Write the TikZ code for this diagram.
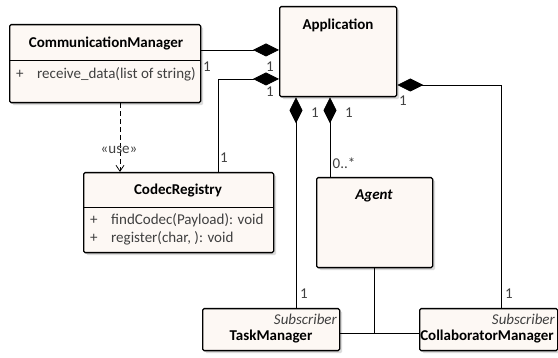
\documentclass[tikz,border=0pt]{standalone}
\usepackage{fontspec}
\setmainfont{Carlito}
\usetikzlibrary{arrows.meta,shadows,calc}
\definecolor{clsfill}{HTML}{FDF8F4}
\definecolor{optext}{HTML}{404040}
\newcommand{\umlsize}{\fontsize{15}{17}\selectfont}
\begin{document}
\begin{tikzpicture}[x=1pt,y=-1pt,
  cls/.style={draw=black, line width=1.3pt, fill=clsfill, rounded corners=1.5pt,
    anchor=north west, inner sep=0pt,
    drop shadow={shadow xshift=2.5pt, shadow yshift=-2.5pt, fill=black!14, opacity=1}},
  title/.style={font=\umlsize\bfseries, inner sep=0pt},
  optxt/.style={font=\umlsize, text=optext, inner sep=0pt, anchor=west},
  mult/.style={font=\umlsize, text=optext, inner sep=0pt},
  link/.style={draw=black, line width=0.8pt},
  comp/.style={link, {Diamond[length=26pt,width=13pt,fill=black]}-},
  uses/.style={link, dashed, dash pattern=on 5pt off 3pt, -{Straight Barb[length=6pt,width=8pt,line width=0.8pt]}},
]
\useasboundingbox (0,0) rectangle (558,358);

% class boxes
\node[cls, minimum width=191pt, minimum height=78pt] (cm) at (9,24) {};
\node[cls, minimum width=117pt, minimum height=90pt] (app) at (279,6) {};
\node[cls, minimum width=190pt, minimum height=80pt] (cr) at (83,172) {};
\node[cls, minimum width=116pt, minimum height=90pt] (agent) at (316,177) {};
\node[cls, minimum width=137pt, minimum height=42pt] (tm) at (202,308) {};
\node[cls, minimum width=138pt, minimum height=42pt] (colm) at (419,308) {};

% compartment separators
\draw[line width=0.8pt] (cm.west |- 0,60) -- (cm.east |- 0,60);
\draw[line width=0.8pt] (cr.west |- 0,207) -- (cr.east |- 0,207);

% class contents
\node[title] (cmname) at (106,44) {CommunicationManager};
\node[optxt] (cmplus) at (16,74) {+};
\node[optxt] (cmop) at (37,74) {receive\_data(list of string)};

\node[title] (appname) at (338,25) {Application};

\node[title] (crname) at (178,191) {CodecRegistry};
\node[optxt] (crplus1) at (90,220) {+};
\node[optxt] (crop1) at (111,220) {findCodec(Payload): void};
\node[optxt] (crplus2) at (90,238) {+};
\node[optxt] (crop2) at (111,238) {register(char, ): void};

\node[title, font=\umlsize\bfseries\itshape] (agentname) at (374,196) {Agent};

\node[optxt, anchor=east, font=\umlsize\itshape] (tmst) at (337,319) {Subscriber};
\node[title] (tmname) at (271,337) {TaskManager};
\node[optxt, anchor=east, font=\umlsize\itshape] (cmst) at (555,319) {Subscriber};
\node[title] (colmname) at (487,337) {CollaboratorManager};

% associations
\draw[comp] (app.west |- 0,50) -- (cm.east |- 0,50);
\draw[comp] (app.west |- 0,79) -| (cr.north -| 218,0);
\draw[comp] (app.south -| 296,0) -- (tm.north -| 296,0);
\draw[comp] (app.south -| 330,0) -- (agent.north -| 330,0);
\draw[comp] (app.east |- 0,85) -| (colm.north -| 501,0);
\draw[uses] (cm.south -| 120,0) -- (cr.north -| 120,0);

\coordinate (join) at (374,333);
\draw[link] (agent.south -| join) -- (join);
\draw[link] (tm.east |- join) -- (colm.west |- join);

% multiplicities and stereotypes
\node[mult] (m1) at (207,67) {1};
\node[mult] (m2) at (270,67) {1};
\node[mult] (m3) at (270,92) {1};
\node[mult] (m4) at (224,158) {1};
\node[mult] (m5) at (315,113) {1};
\node[mult] (m6) at (349,113) {1};
\node[mult] (m7) at (344,163) {0..*};
\node[mult] (m8) at (403,101) {1};
\node[mult] (m9) at (304,294) {1};
\node[mult] (m10) at (509,294) {1};
\node[mult] (use) at (119,150) {«use»};
\end{tikzpicture}
\end{document}
